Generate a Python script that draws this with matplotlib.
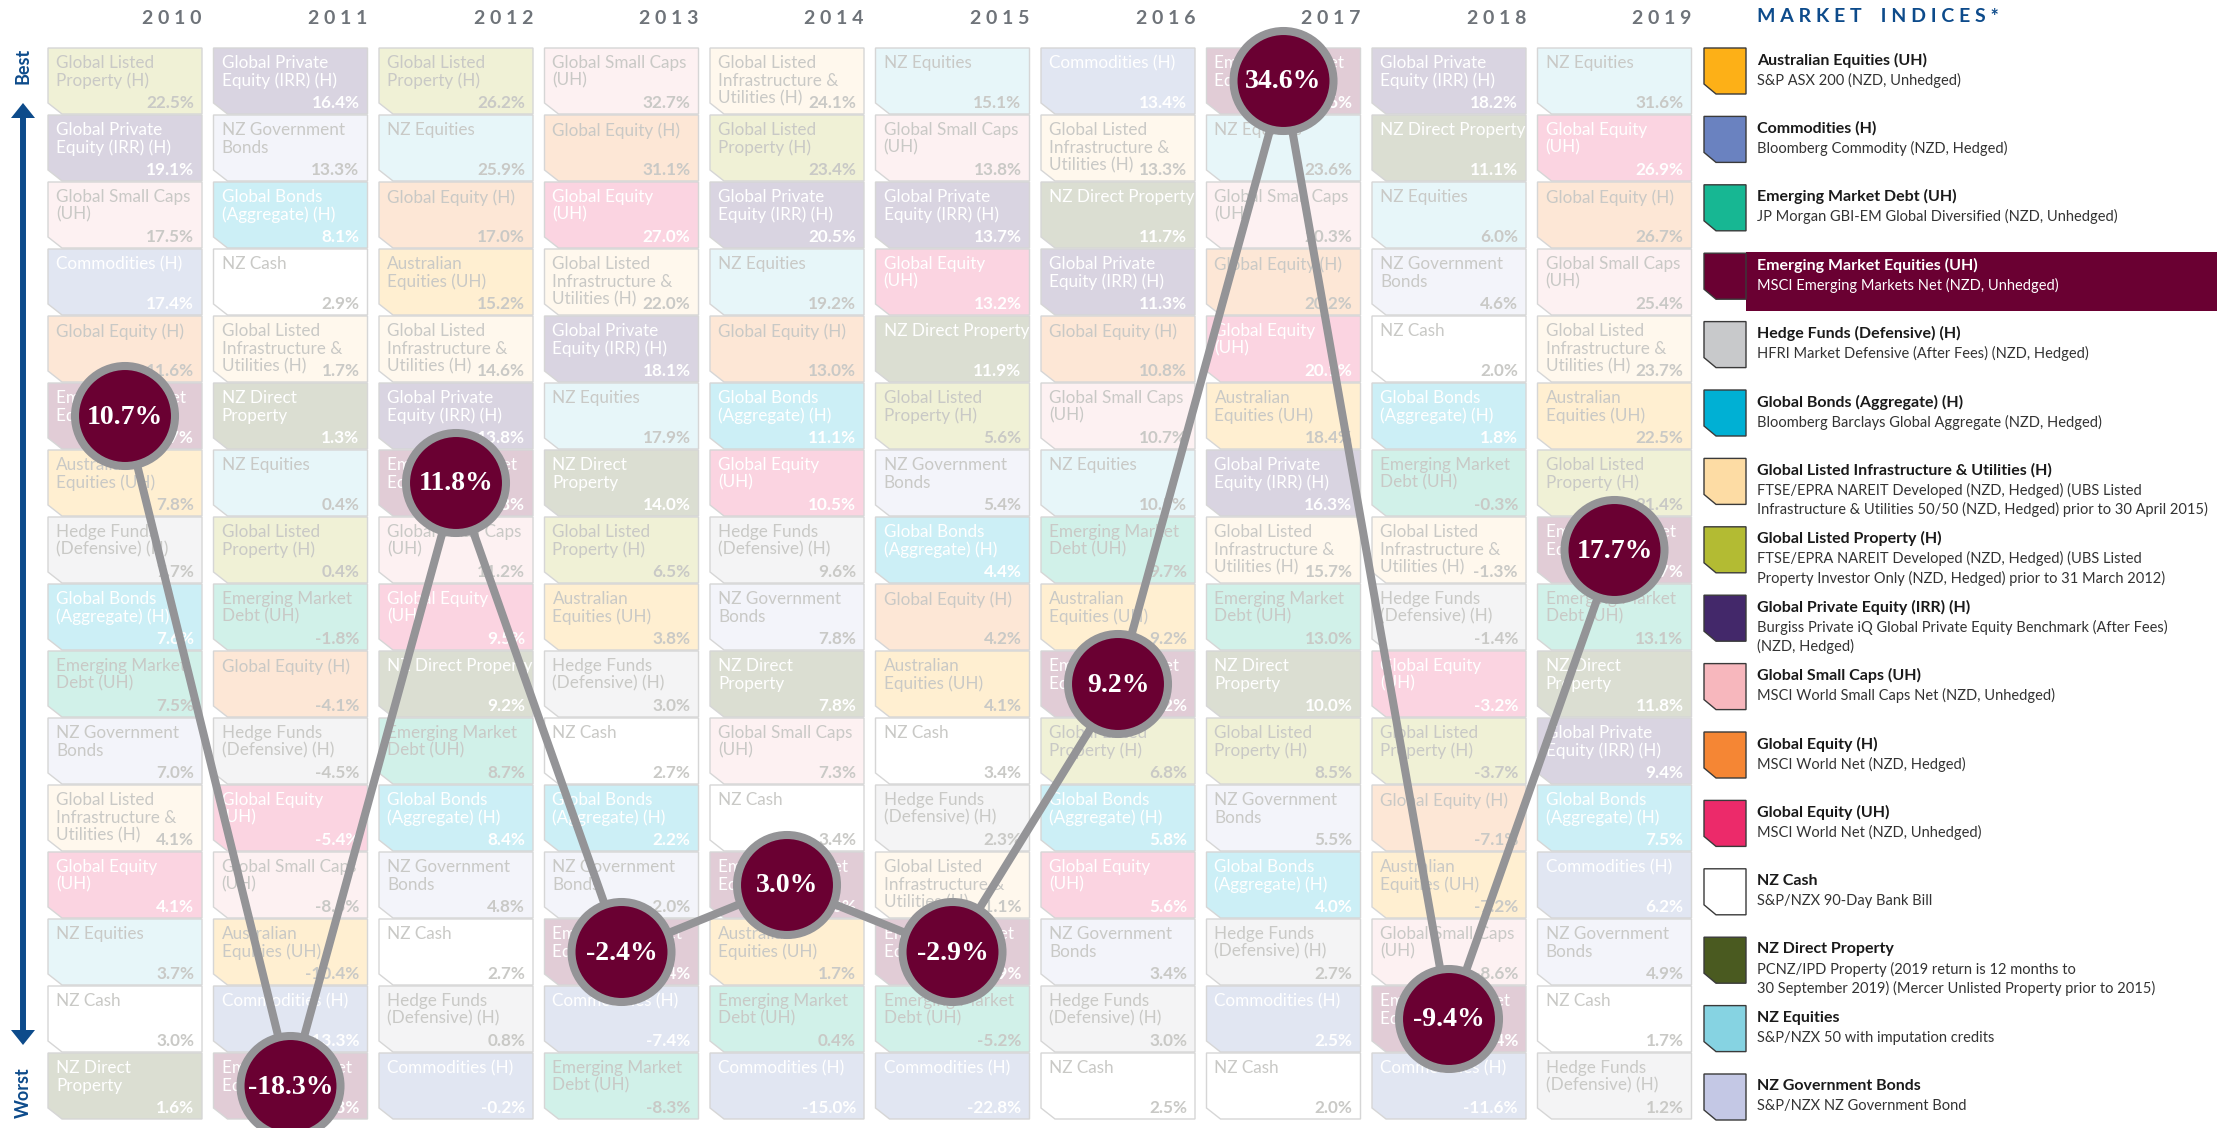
import numpy as np
import matplotlib.pyplot as plt
from matplotlib.patches import Polygon, Circle, Rectangle
from matplotlib.colors import to_rgb

W, H = 2217, 1128

years = [2010, 2011, 2012, 2013, 2014, 2015, 2016, 2017, 2018, 2019]

# ranking of asset classes per year, best to worst, with returns (%)
ranks_2010 = ["GLP", "GPE", "GSC", "COM", "GEH", "EME", "AUS", "HF", "GB", "EMD", "NZGB", "GLI", "GEU", "NZE", "NZC", "NZDP"]
returns_2010 = [22.5, 19.1, 17.5, 17.4, 11.6, 10.7, 7.8, 7.7, 7.6, 7.5, 7.0, 4.1, 4.1, 3.7, 3.0, 1.6]

ranks_2011 = ["GPE", "NZGB", "GB", "NZC", "GLI", "NZDP", "NZE", "GLP", "EMD", "GEH", "HF", "GEU", "GSC", "AUS", "COM", "EME"]
returns_2011 = [16.4, 13.3, 8.1, 2.9, 1.7, 1.3, 0.4, 0.4, -1.8, -4.1, -4.5, -5.4, -8.5, -10.4, -13.3, -18.3]

ranks_2012 = ["GLP", "NZE", "GEH", "AUS", "GLI", "GPE", "EME", "GSC", "GEU", "NZDP", "EMD", "GB", "NZGB", "NZC", "HF", "COM"]
returns_2012 = [26.2, 25.9, 17.0, 15.2, 14.6, 13.8, 11.8, 11.2, 9.5, 9.2, 8.7, 8.4, 4.8, 2.7, 0.8, -0.2]

ranks_2013 = ["GSC", "GEH", "GEU", "GLI", "GPE", "NZE", "NZDP", "GLP", "AUS", "HF", "NZC", "GB", "NZGB", "EME", "COM", "EMD"]
returns_2013 = [32.7, 31.1, 27.0, 22.0, 18.1, 17.9, 14.0, 6.5, 3.8, 3.0, 2.7, 2.2, -2.0, -2.4, -7.4, -8.3]

ranks_2014 = ["GLI", "GLP", "GPE", "NZE", "GEH", "GB", "GEU", "HF", "NZGB", "NZDP", "GSC", "NZC", "EME", "AUS", "EMD", "COM"]
returns_2014 = [24.1, 23.4, 20.5, 19.2, 13.0, 11.1, 10.5, 9.6, 7.8, 7.8, 7.3, 3.4, 3.0, 1.7, 0.4, -15.0]

ranks_2015 = ["NZE", "GSC", "GPE", "GEU", "NZDP", "GLP", "NZGB", "GB", "GEH", "AUS", "NZC", "HF", "GLI", "EME", "EMD", "COM"]
returns_2015 = [15.1, 13.8, 13.7, 13.2, 11.9, 5.6, 5.4, 4.4, 4.2, 4.1, 3.4, 2.3, -1.1, -2.9, -5.2, -22.8]

ranks_2016 = ["COM", "GLI", "NZDP", "GPE", "GEH", "GSC", "NZE", "EMD", "AUS", "EME", "GLP", "GB", "GEU", "NZGB", "HF", "NZC"]
returns_2016 = [13.4, 13.3, 11.7, 11.3, 10.8, 10.7, 10.5, 9.7, 9.2, 9.2, 6.8, 5.8, 5.6, 3.4, 3.0, 2.5]

ranks_2017 = ["EME", "NZE", "GSC", "GEH", "GEU", "AUS", "GPE", "GLI", "EMD", "NZDP", "GLP", "NZGB", "GB", "HF", "COM", "NZC"]
returns_2017 = [34.6, 23.6, 20.3, 20.2, 20.1, 18.4, 16.3, 15.7, 13.0, 10.0, 8.5, 5.5, 4.0, 2.7, 2.5, 2.0]

ranks_2018 = ["GPE", "NZDP", "NZE", "NZGB", "NZC", "GB", "EMD", "GLI", "HF", "GEU", "GLP", "GEH", "AUS", "GSC", "EME", "COM"]
returns_2018 = [18.2, 11.1, 6.0, 4.6, 2.0, 1.8, -0.3, -1.3, -1.4, -3.2, -3.7, -7.1, -7.2, -8.6, -9.4, -11.6]

ranks_2019 = ["NZE", "GEU", "GEH", "GSC", "GLI", "AUS", "GLP", "EME", "EMD", "NZDP", "GPE", "GB", "COM", "NZGB", "NZC", "HF"]
returns_2019 = [31.6, 26.9, 26.7, 25.4, 23.7, 22.5, 21.4, 17.7, 13.1, 11.8, 9.4, 7.5, 6.2, 4.9, 1.7, 1.2]

all_ranks = [ranks_2010, ranks_2011, ranks_2012, ranks_2013, ranks_2014,
             ranks_2015, ranks_2016, ranks_2017, ranks_2018, ranks_2019]
all_returns = [returns_2010, returns_2011, returns_2012, returns_2013, returns_2014,
               returns_2015, returns_2016, returns_2017, returns_2018, returns_2019]

cell_labels = {
    "AUS": "Australian\nEquities (UH)",
    "COM": "Commodities (H)",
    "EMD": "Emerging Market\nDebt (UH)",
    "EME": "Emerging Market\nEquities (UH)",
    "HF": "Hedge Funds\n(Defensive) (H)",
    "GB": "Global Bonds\n(Aggregate) (H)",
    "GLI": "Global Listed\nInfrastructure &\nUtilities (H)",
    "GLP": "Global Listed\nProperty (H)",
    "GPE": "Global Private\nEquity (IRR) (H)",
    "GSC": "Global Small Caps\n(UH)",
    "GEH": "Global Equity (H)",
    "GEU": "Global Equity\n(UH)",
    "NZC": "NZ Cash",
    "NZDP": "NZ Direct Property",
    "NZE": "NZ Equities",
    "NZGB": "NZ Government\nBonds",
}
# years where the NZ Direct Property label wraps onto two lines
nzdp_wrapped = {2010, 2011, 2013, 2014, 2017, 2019}

base_colors = {
    "AUS": "#fdb017", "COM": "#6a82c0", "EMD": "#17b793", "EME": "#6a0032",
    "HF": "#c8c9cb", "GB": "#00b0d4", "GLI": "#fddca4", "GLP": "#b3bb33",
    "GPE": "#43286a", "GSC": "#f7b7bd", "GEH": "#f58634", "GEU": "#ec2a6a",
    "NZC": "#ffffff", "NZDP": "#4a5a20", "NZE": "#86d3e2", "NZGB": "#c4c8e5",
}
white_text = {"GPE", "GB", "GEU", "COM", "NZDP", "EME"}

legend_codes = ["AUS", "COM", "EMD", "EME", "HF", "GB", "GLI", "GLP",
                "GPE", "GSC", "GEH", "GEU", "NZC", "NZDP", "NZE", "NZGB"]
legend_titles = [
    "Australian Equities (UH)", "Commodities (H)", "Emerging Market Debt (UH)",
    "Emerging Market Equities (UH)", "Hedge Funds (Defensive) (H)",
    "Global Bonds (Aggregate) (H)", "Global Listed Infrastructure & Utilities (H)",
    "Global Listed Property (H)", "Global Private Equity (IRR) (H)",
    "Global Small Caps (UH)", "Global Equity (H)", "Global Equity (UH)",
    "NZ Cash", "NZ Direct Property", "NZ Equities", "NZ Government Bonds",
]
legend_descs = [
    "S&P ASX 200 (NZD, Unhedged)",
    "Bloomberg Commodity (NZD, Hedged)",
    "JP Morgan GBI-EM Global Diversified (NZD, Unhedged)",
    "MSCI Emerging Markets Net (NZD, Unhedged)",
    "HFRI Market Defensive (After Fees) (NZD, Hedged)",
    "Bloomberg Barclays Global Aggregate (NZD, Hedged)",
    "FTSE/EPRA NAREIT Developed (NZD, Hedged) (UBS Listed\nInfrastructure & Utilities 50/50 (NZD, Hedged) prior to 30 April 2015)",
    "FTSE/EPRA NAREIT Developed (NZD, Hedged) (UBS Listed\nProperty Investor Only (NZD, Hedged) prior to 31 March 2012)",
    "Burgiss Private iQ Global Private Equity Benchmark (After Fees)\n(NZD, Hedged)",
    "MSCI World Small Caps Net (NZD, Unhedged)",
    "MSCI World Net (NZD, Hedged)",
    "MSCI World Net (NZD, Unhedged)",
    "S&P/NZX 90-Day Bank Bill",
    "PCNZ/IPD Property (2019 return is 12 months to\n30 September 2019) (Mercer Unlisted Property prior to 2015)",
    "S&P/NZX 50 with imputation credits",
    "S&P/NZX NZ Government Bond",
]

FONT = "Lato"
BLUE = "#0d4b8b"
MAROON = "#6a0032"
RING = "#949497"


def pale(c, a=0.2):
    rgb = np.array(to_rgb(c))
    return tuple(1 - a * (1 - rgb))


def chamfer(x0, y0, w, h, cw, ch):
    # rectangle with the bottom-left corner cut off (y axis points down)
    return [(x0, y0), (x0 + w, y0), (x0 + w, y0 + h), (x0 + cw, y0 + h), (x0, y0 + h - ch)]


fig = plt.figure(figsize=(W / 100, H / 100), dpi=100)
ax = fig.add_axes([0, 0, 1, 1])
ax.set_xlim(0, W)
ax.set_ylim(H, 0)
ax.axis("off")

# grid layout
col_x0, col_step, cell_w = 48, 165.5, 154
row_y0, row_step, cell_h = 48, 67, 66

em_centers = []
for i, (yr, rk, rets) in enumerate(zip(years, all_ranks, all_returns)):
    x0 = col_x0 + i * col_step
    ax.text(x0 + cell_w, 18, " ".join(str(yr)), ha="right", va="center",
            fontsize=14, fontweight="bold", color="#6e7379", family=FONT)
    for r, (code, val) in enumerate(zip(rk, rets)):
        y0 = row_y0 + r * row_step
        ax.add_patch(Polygon(chamfer(x0, y0, cell_w, cell_h, 14, 11), closed=True,
                             fc=pale(base_colors[code]), ec="#d6d6d6", lw=1.0, zorder=1))
        tc = "white" if code in white_text else "#c9c9c6"
        label = cell_labels[code]
        if code == "NZDP" and yr in nzdp_wrapped:
            label = "NZ Direct\nProperty"
        ax.text(x0 + 8, y0 + 7, label, ha="left", va="top", fontsize=12.3,
                color=tc, family=FONT, linespacing=1.12, zorder=2)
        ax.text(x0 + cell_w - 8, y0 + 55, f"{val:.1f}%", ha="right", va="center",
                fontsize=12.3, fontweight="bold", color=tc, family=FONT, zorder=2)
        if code == "EME":
            em_centers.append((x0 + cell_w / 2, y0 + cell_h / 2, val))

# emerging market equities path
xs = [c[0] for c in em_centers]
ys = [c[1] for c in em_centers]
ax.plot(xs, ys, color=RING, lw=5.8, solid_capstyle="round", zorder=3)
for cx, cy, val in em_centers:
    ax.add_patch(Circle((cx, cy), 50, fc=MAROON, ec=RING, lw=5.8, zorder=4))
    ax.text(cx, cy + 1, f"{val:.1f}%", ha="center", va="center", fontsize=20,
            fontweight="bold", color="white", family="Liberation Serif", zorder=5)

# best / worst arrow
ax.plot([23, 23], [112, 1036], color=BLUE, lw=4.3, solid_capstyle="butt")
ax.add_patch(Polygon([(23, 103), (35, 118), (11, 118)], closed=True, fc=BLUE, ec="none"))
ax.add_patch(Polygon([(23, 1045), (35, 1030), (11, 1030)], closed=True, fc=BLUE, ec="none"))
ax.text(23, 66, "Best", rotation=90, ha="center", va="center", fontsize=13,
        fontweight="bold", color=BLUE, family=FONT)
ax.text(23, 1093, "Worst", rotation=90, ha="center", va="center", fontsize=13,
        fontweight="bold", color=BLUE, family=FONT)

# legend
lx, lw_sw, lh_sw = 1704, 42, 46
ax.text(1757, 17, " ".join("MARKET INDICES*").replace("   ", "    "), ha="left", va="center",
        fontsize=14, fontweight="bold", color=BLUE, family=FONT)
for j, (code, title, desc) in enumerate(zip(legend_codes, legend_titles, legend_descs)):
    top = 48 + j * 68.4
    tcol, dcol = "#1a1a1a", "#333333"
    if code == "EME":
        ax.add_patch(Rectangle((lx + lw_sw, top - 1), W - lx - lw_sw, 59, fc=MAROON, ec="none", zorder=1))
        tcol = dcol = "white"
    ax.add_patch(Polygon(chamfer(lx, top, lw_sw, lh_sw, 12, 10), closed=True,
                         fc=base_colors[code], ec="#3a3a3a", lw=1.0, zorder=2))
    ax.text(1757, top + 12, title, ha="left", va="center", fontsize=11.5,
            fontweight="bold", color=tcol, family=FONT, zorder=3)
    for k, line in enumerate(desc.split("\n")):
        ax.text(1757, top + 32 + k * 19.5, line, ha="left", va="center", fontsize=10.5,
                color=dcol, family=FONT, zorder=3)

fig.savefig("out.png", dpi=100)
